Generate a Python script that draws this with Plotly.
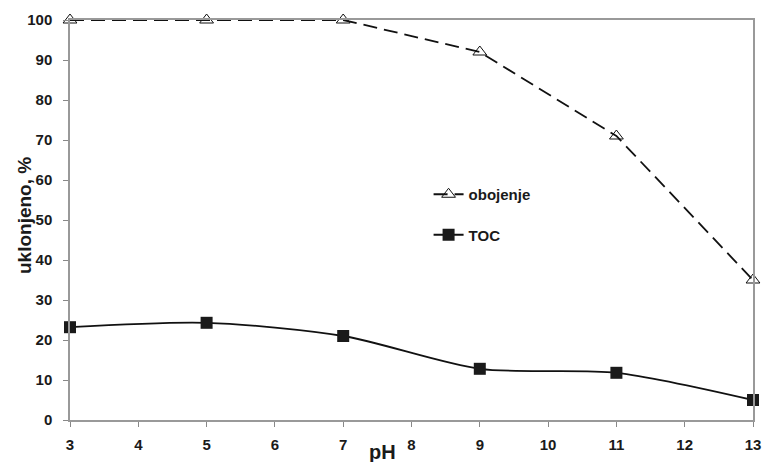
import plotly.graph_objects as go

ph = [3, 5, 7, 9, 11, 13]
obojenje = [100, 100, 100, 92, 71, 35]
toc = [23.2, 24.3, 21.0, 12.8, 11.8, 5.0]
x_ticks = list(range(3, 14))
y_ticks = list(range(0, 101, 10))

fig = go.Figure()
fig.add_trace(go.Scatter(
    x=ph, y=obojenje, name="obojenje", mode="lines+markers", legendgroup="a",
    line=dict(color="#111", width=1.8, dash="14px,7px"),
    marker=dict(symbol="triangle-up-open", size=12, color="#111", line=dict(width=1)),
    cliponaxis=False,
))
fig.add_trace(go.Scatter(
    x=ph, y=toc, name="TOC", mode="lines+markers", legendgroup="b",
    line=dict(color="#111", width=1.8, shape="spline", smoothing=0.8),
    marker=dict(symbol="square", size=12, color="#1a1a1a"),
    cliponaxis=False,
))

FAM = "Liberation Sans, Arial, sans-serif"
font = dict(family=FAM, size=15, color="#1a1a1a", weight="bold")
fig.update_layout(
    width=762, height=462,
    margin=dict(l=70, r=9, t=20, b=42, autoexpand=False),
    plot_bgcolor="white", paper_bgcolor="white",
    font=font,
    showlegend=True,
    legend=dict(x=0.525, y=0.605, xanchor="left", yanchor="top",
                bgcolor="rgba(0,0,0,0)", tracegroupgap=18,
                font=dict(family=FAM, size=15, color="#1a1a1a", weight="bold")),
)
fig.update_xaxes(
    range=[3, 13], tickvals=x_ticks, ticks="outside", ticklen=5, tickcolor="#888",
    showgrid=False, zeroline=False, showline=True, linecolor="#999", linewidth=1.5, mirror=True,
    tickfont=font, ticklabelstandoff=5, automargin=False,
)
fig.update_yaxes(
    range=[0, 100], tickvals=y_ticks, ticks="outside", ticklen=5, tickcolor="#888",
    showgrid=False, zeroline=False, showline=True, linecolor="#999", linewidth=1.5, mirror=True,
    tickfont=font, ticklabelstandoff=8, automargin=False,
)
fig.add_annotation(text="pH", xref="paper", yref="paper", x=0.458, y=0, yshift=-32,
                   xanchor="center", yanchor="middle", showarrow=False,
                   font=dict(family=FAM, size=20, color="#1a1a1a", weight="bold"))
fig.add_annotation(text="uklonjeno, %", xref="paper", yref="paper", x=0, xshift=-46, y=0.51,
                   textangle=-90, xanchor="center", yanchor="middle", showarrow=False,
                   font=dict(family=FAM, size=19, color="#1a1a1a", weight="bold"))
fig.write_html("out.html")
